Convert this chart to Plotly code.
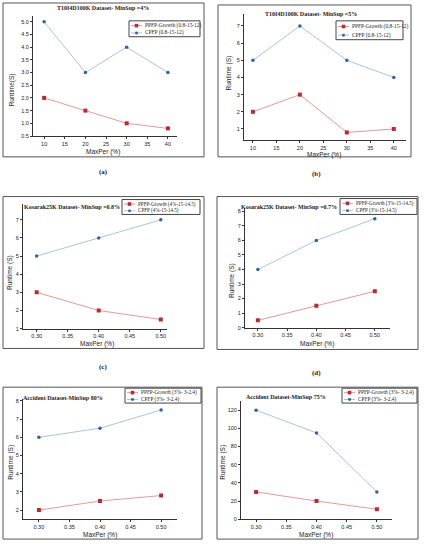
import plotly.graph_objects as go

W, H = 428, 552

# ---- data ----
x_a = [10, 20, 30, 40]
ppfp_a = [2.0, 1.5, 1.0, 0.8]
cpfp_a = [5.0, 3.0, 4.0, 3.0]

x_b = [10, 20, 30, 40]
ppfp_b = [2, 3, 0.8, 1]
cpfp_b = [5, 7, 5, 4]

x_c = [0.30, 0.40, 0.50]
ppfp_c = [3, 2, 1.5]
cpfp_c = [5, 6, 7]

x_d = [0.30, 0.40, 0.50]
ppfp_d = [0.5, 1.5, 2.5]
cpfp_d = [4, 6, 7.5]

x_e = [0.30, 0.40, 0.50]
ppfp_e = [2, 2.5, 2.8]
cpfp_e = [6, 6.5, 7.5]

x_f = [0.30, 0.40, 0.50]
ppfp_f = [30, 20, 11]
cpfp_f = [120, 95, 30]

titles = ["T10I4D100K Dataset- MinSup =4%", "T10I4D100K Dataset- MinSup =5%",
          "Kosarak25K Dataset- MinSup =0.8%", "Kosarak25K Dataset- MinSup =0.7%",
          "Accident Dataset-MinSup 80%", "Accident Dataset-MinSup 75%"]
ppfp_names = ["PPFP-Growth (0.8-15-12)", "PPFP-Growth (0.8-15-12)",
              "PPFP-Growth (4%-15-14.5)", "PPFP-Growth (3%-15-14.5)",
              "PPFP-Growth (3%- 3-2.4)", "PPFP-Growth (3%- 3-2.4)"]
cpfp_names = ["CPFP (0.8-15-12)", "CPFP (0.8-15-12)",
              "CPFP (4%-15-14.5)", "CPFP (3%-15-14.5)",
              "CPFP (3%- 3-2.4)", "CPFP (3%- 3-2.4)"]
ytitles = ["Runtime(S)", "Runtime (S)", "Runtime (S)", "Runtime (S)", "Runtime (S)", "Runtime (S)"]
captions = ["(a)", "(b)", "(c)", "(d)", "", ""]

xs = [x_a, x_b, x_c, x_d, x_e, x_f]
pp = [ppfp_a, ppfp_b, ppfp_c, ppfp_d, ppfp_e, ppfp_f]
cp = [cpfp_a, cpfp_b, cpfp_c, cpfp_d, cpfp_e, cpfp_f]

# ---- layout geometry (pixels) ----
areas = [(33, 177, 15, 136), (244, 406, 13, 140),
         (23, 167, 204, 330), (245, 390, 209, 329),
         (23, 177, 401, 522), (241, 392, 403, 522)]
xranges = [[7.3, 42.2], [8.1, 42.6], [0.278, 0.51], [0.278, 0.526], [0.274, 0.526], [0.275, 0.525]]
yranges = [[0.5, 5.23], [0.36, 7.7], [1, 7.9], [0, 8.2], [1.5, 8.1], [0, 130]]
xdtick = [5, 5, 0.05, 0.05, 0.05, 0.05]
ydtick = [0.5, 1, 1, 1, 1, 20]
xfmt = ["d", "d", ".2f", ".2f", ".2f", ".2f"]
yfmt = [".1f", "d", "d", "d", "d", "d"]
frames = [(3, 204, 2, 157), (218, 411, 4, 157), (3, 204, 197, 350),
          (217, 418, 197, 351), (3, 202, 389, 542), (217, 418, 389, 542)]
title_pos = [(103, 7), (311, 13), (72, 207), (289, 208), (63, 400), (286, 399)]
legend_box = [(129, 20, 200, 36), (336, 20, 403, 39), (122, 200, 200, 215),
              (340, 199, 417, 215), (125, 390, 201, 405), (342, 390, 417, 405)]
legend_font = [5.4, 5.4, 5.1, 5.1, 5.3, 5.3]
ytitle_pos = [(12, 90), (229, 73), (10, 274), (232, 281), (11, 465), (223, 465)]
xtitle_pos = [(103, 152), (324, 155), (97, 345), (317, 346), (100, 538), (316, 538)]
caption_pos = [(103, 172), (316, 174), (103, 369), (316, 375), (0, 0), (0, 0)]


def px(x):
    return x / W


def py(y):
    return 1 - y / H


RED = "#c0282d"
RED_LINE = "#e59a9a"
BLUE = "#2e63a0"
BLUE_LINE = "#a9c6d6"
SERIF = "Liberation Serif"
SANS = "Liberation Sans"

fig = go.Figure()
layout = dict(width=W, height=H, margin=dict(l=0, r=0, t=0, b=0),
              paper_bgcolor="white", plot_bgcolor="white", showlegend=False)
annotations = []
shapes = []


def ann(text, x, y, font, angle=0, xanchor="center"):
    annotations.append(dict(text=text, x=px(x), y=py(y), xref="paper", yref="paper",
                            xanchor=xanchor, yanchor="middle", showarrow=False,
                            textangle=angle, font=font, borderpad=0))


for i in range(6):
    n = "" if i == 0 else str(i + 1)
    fig.add_trace(go.Scatter(x=xs[i], y=pp[i], name=ppfp_names[i], mode="lines+markers",
                             line=dict(color=RED_LINE, width=1),
                             marker=dict(symbol="square", size=4, color=RED),
                             xaxis="x" + n, yaxis="y" + n))
    fig.add_trace(go.Scatter(x=xs[i], y=cp[i], name=cpfp_names[i], mode="lines+markers",
                             line=dict(color=BLUE_LINE, width=1),
                             marker=dict(symbol="circle", size=3.5, color=BLUE),
                             xaxis="x" + n, yaxis="y" + n))
    l, r, t, b = areas[i]
    common = dict(showline=True, linecolor="#333", linewidth=1,
                  ticks="outside", ticklen=2, tickcolor="#333",
                  showgrid=False, zeroline=False, tick0=0,
                  tickfont=dict(family=SANS, size=5.5, color="#222"))
    layout["xaxis" + n] = dict(domain=[px(l), px(r)], range=xranges[i], anchor="y" + n,
                               dtick=xdtick[i], tickformat=xfmt[i], **common)
    layout["yaxis" + n] = dict(domain=[py(b), py(t)], range=yranges[i], anchor="x" + n,
                               dtick=ydtick[i], tickformat=yfmt[i], **common)

    # frame around each panel
    fl, fr, ft, fb = frames[i]
    shapes.append(dict(type="rect", xref="paper", yref="paper",
                       x0=px(fl), x1=px(fr), y0=py(fb), y1=py(ft),
                       line=dict(color="#555", width=1)))

    # legend box drawn by hand (compact like the reference)
    bx0, by0, bx1, by1 = legend_box[i]
    shapes.append(dict(type="rect", xref="paper", yref="paper",
                       x0=px(bx0), x1=px(bx1), y0=py(by1), y1=py(by0),
                       fillcolor="white", line=dict(color="#444", width=1)))
    hgt = by1 - by0
    rows = [by0 + hgt * 0.3, by0 + hgt * 0.76]
    for k, (name, mc, lc, sym) in enumerate([(ppfp_names[i], RED, RED_LINE, "rect"),
                                              (cpfp_names[i], BLUE, BLUE_LINE, "circle")]):
        ry = rows[k]
        shapes.append(dict(type="line", xref="paper", yref="paper",
                           x0=px(bx0 + 2), x1=px(bx0 + 13), y0=py(ry), y1=py(ry),
                           line=dict(color=lc, width=1)))
        s = 1.8 if sym == "rect" else 1.5
        shapes.append(dict(type=sym, xref="paper", yref="paper",
                           x0=px(bx0 + 7.5 - s), x1=px(bx0 + 7.5 + s),
                           y0=py(ry + s), y1=py(ry - s),
                           fillcolor=mc, line=dict(color=mc, width=0)))
        ann(name, bx0 + 14.5, ry, dict(family=SERIF, size=legend_font[i], color="#222"), xanchor="left")

    tx, ty = title_pos[i]
    ann("<b>" + titles[i] + "</b>", tx, ty, dict(family=SERIF, size=6, color="#222"))
    yx, yy = ytitle_pos[i]
    ann(ytitles[i], yx, yy, dict(family=SANS, size=6.5, color="#222"), angle=-90)
    xx, xy = xtitle_pos[i]
    ann("MaxPer (%)", xx, xy, dict(family=SANS, size=6.5, color="#222"))
    if captions[i]:
        cx, cy = caption_pos[i]
        ann("<b>" + captions[i] + "</b>", cx, cy, dict(family=SERIF, size=7, color="#222"))

layout["annotations"] = annotations
layout["shapes"] = shapes
fig.update_layout(**layout)
fig.write_html("out.html")
